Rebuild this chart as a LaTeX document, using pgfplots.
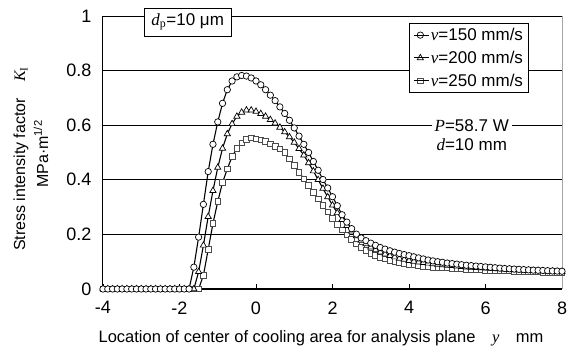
\documentclass[border=0pt]{standalone}
\usepackage{pgfplots}
\pgfplotsset{compat=1.18}
\usepackage{fontspec}
\setmainfont{Liberation Sans}
\newfontfamily\tnr{Liberation Serif}
\newcommand{\vi}[1]{{\tnr\itshape #1}}
\newcommand{\fs}{\fontsize{16}{19}\selectfont}
\newcommand{\fx}{\fontsize{16.5}{19}\selectfont}
\newcommand{\fl}{\fontsize{17}{20}\selectfont}
\begin{document}
\begin{tikzpicture}
\begin{axis}[
  at={(0pt,0pt)}, anchor=south west,
  scale only axis, width=459pt, height=273pt,
  xmin=-4, xmax=8, ymin=0, ymax=1,
  clip=false,
  axis lines*=left,
  axis line style={-, black, line width=1pt},
  xtick={-4,-2,0,2,4,6,8},
  ytick={0,0.2,0.4,0.6,0.8,1},
  ymajorgrids,
  grid style={black, line width=0.7pt},
  tick align=inside, major tick length=5pt,
  ytick style={draw=none},
  xtick style={black, line width=0.7pt},
  tick label style={font=\fontsize{18}{21}\selectfont},
  xticklabel style={yshift=-9pt},
  yticklabel style={xshift=-8pt},
  /pgf/number format/assume math mode=true,
  legend style={at={(axis cs:4.01,0.975)}, anchor=north west, draw=black,
    line width=0.8pt, fill=white, font=\fl, row sep=7pt, inner sep=4pt,
    nodes={inner sep=1pt}},
  legend cell align=left,
  reverse legend,
  legend image code/.code={\draw[mark repeat=2,mark phase=2] plot coordinates {(0pt,0pt) (6pt,0pt) (12pt,0pt)}; \path (0pt,0pt) -- (15pt,0pt);},
]
\draw[gray!70, line width=0.8pt] (axis cs:8,0) -- (axis cs:8,1);
\addplot[black, line width=1.1pt, mark=square*, mark size=2.8pt, mark options={fill=white, draw=black!70, line width=0.7pt, solid}] table {
-4 0
-3.875 0
-3.75 0
-3.625 0
-3.5 0
-3.375 0
-3.25 0
-3.125 0
-3 0
-2.875 0
-2.75 0
-2.625 0
-2.5 0
-2.375 0
-2.25 0
-2.125 0
-2 0
-1.875 0
-1.75 0
-1.625 0
-1.5 0
-1.375 0.05
-1.25 0.145
-1.125 0.24
-1 0.32
-0.875 0.39
-0.75 0.44
-0.625 0.485
-0.5 0.515
-0.375 0.535
-0.25 0.548
-0.125 0.553
0 0.55
0.125 0.547
0.25 0.541
0.375 0.532
0.5 0.522
0.625 0.514
0.75 0.5
0.875 0.477
1 0.452
1.125 0.428
1.25 0.404
1.375 0.38
1.5 0.355
1.625 0.33
1.75 0.306
1.875 0.282
2 0.259
2.125 0.237
2.25 0.217
2.375 0.199
2.5 0.182
2.625 0.166
2.75 0.152
2.875 0.141
3 0.131
3.125 0.123
3.25 0.116
3.375 0.11
3.5 0.105
3.625 0.101
3.75 0.097
3.875 0.094
4 0.091
4.125 0.088
4.25 0.086
4.375 0.084
4.5 0.082
4.625 0.08
4.75 0.079
4.875 0.078
5 0.077
5.125 0.076
5.25 0.075
5.375 0.074
5.5 0.073
5.625 0.072
5.75 0.071
5.875 0.07
6 0.069
6.125 0.0685
6.25 0.068
6.375 0.067
6.5 0.0665
6.625 0.066
6.75 0.065
6.875 0.0645
7 0.064
7.125 0.0635
7.25 0.063
7.375 0.0625
7.5 0.062
7.625 0.0615
7.75 0.061
7.875 0.0605
8 0.06
};
\addlegendentry{\vi{v}=250 mm/s}
\addplot[black, line width=1.1pt, mark=triangle*, mark size=3.6pt, mark options={fill=white, line width=0.7pt, solid}] table {
-4 0
-3.875 0
-3.75 0
-3.625 0
-3.5 0
-3.375 0
-3.25 0
-3.125 0
-3 0
-2.875 0
-2.75 0
-2.625 0
-2.5 0
-2.375 0
-2.25 0
-2.125 0
-2 0
-1.875 0
-1.75 0
-1.625 0
-1.5 0.063
-1.375 0.16
-1.25 0.265
-1.125 0.36
-1 0.445
-0.875 0.515
-0.75 0.568
-0.625 0.605
-0.5 0.632
-0.375 0.647
-0.25 0.655
-0.125 0.655
0 0.65
0.125 0.642
0.25 0.632
0.375 0.62
0.5 0.607
0.625 0.592
0.75 0.575
0.875 0.557
1 0.537
1.125 0.514
1.25 0.49
1.375 0.462
1.5 0.432
1.625 0.4
1.75 0.368
1.875 0.337
2 0.307
2.125 0.279
2.25 0.254
2.375 0.232
2.5 0.212
2.625 0.194
2.75 0.178
2.875 0.165
3 0.153
3.125 0.143
3.25 0.135
3.375 0.128
3.5 0.122
3.625 0.117
3.75 0.112
3.875 0.108
4 0.104
4.125 0.101
4.25 0.098
4.375 0.096
4.5 0.094
4.625 0.092
4.75 0.09
4.875 0.088
5 0.086
5.125 0.085
5.25 0.083
5.375 0.082
5.5 0.08
5.625 0.079
5.75 0.078
5.875 0.077
6 0.076
6.125 0.075
6.25 0.074
6.375 0.073
6.5 0.072
6.625 0.071
6.75 0.07
6.875 0.0695
7 0.069
7.125 0.068
7.25 0.0675
7.375 0.067
7.5 0.066
7.625 0.0655
7.75 0.065
7.875 0.064
8 0.063
};
\addlegendentry{\vi{v}=200 mm/s}
\addplot[black, line width=1.1pt, mark=*, mark size=3.2pt, mark options={fill=white, line width=0.7pt, solid}] table {
-4 0
-3.875 0
-3.75 0
-3.625 0
-3.5 0
-3.375 0
-3.25 0
-3.125 0
-3 0
-2.875 0
-2.75 0
-2.625 0
-2.5 0
-2.375 0
-2.25 0
-2.125 0
-2 0
-1.875 0
-1.75 0
-1.625 0.08
-1.5 0.19
-1.375 0.31
-1.25 0.43
-1.125 0.53
-1 0.612
-0.875 0.68
-0.75 0.73
-0.625 0.762
-0.5 0.777
-0.375 0.782
-0.25 0.78
-0.125 0.773
0 0.762
0.125 0.748
0.25 0.73
0.375 0.71
0.5 0.69
0.625 0.667
0.75 0.643
0.875 0.618
1 0.59
1.125 0.56
1.25 0.53
1.375 0.5
1.5 0.467
1.625 0.435
1.75 0.401
1.875 0.37
2 0.338
2.125 0.305
2.25 0.272
2.375 0.245
2.5 0.221
2.625 0.201
2.75 0.187
2.875 0.177
3 0.168
3.125 0.16
3.25 0.152
3.375 0.146
3.5 0.14
3.625 0.135
3.75 0.13
3.875 0.126
4 0.122
4.125 0.118
4.25 0.114
4.375 0.11
4.5 0.106
4.625 0.103
4.75 0.1
4.875 0.098
5 0.095
5.125 0.093
5.25 0.091
5.375 0.089
5.5 0.087
5.625 0.0855
5.75 0.084
5.875 0.0825
6 0.081
6.125 0.0795
6.25 0.078
6.375 0.0765
6.5 0.075
6.625 0.074
6.75 0.073
6.875 0.072
7 0.071
7.125 0.07
7.25 0.069
7.375 0.0685
7.5 0.068
7.625 0.067
7.75 0.066
7.875 0.0655
8 0.065
};
\addlegendentry{\vi{v}=150 mm/s}
\node[draw=black, fill=white, line width=0.8pt, minimum width=87pt, minimum height=28pt, font=\fl] at (axis cs:-1.785,0.978) {\vi{d}\textsubscript{\tnr p}=10 μm};
\node[fill=white, inner sep=3pt, font=\fl] at (axis cs:5.64,0.6) {\vi{P}=58.7 W};
\node[font=\fl] at (axis cs:5.64,0.527) {\vi{d}=10 mm};
\end{axis}
\node[rotate=90, font=\fs] at (-82pt,130pt) {Stress intensity factor\quad \vi{K}\textsubscript{\tnr I}};
\node[rotate=90, font=\fs] at (-62pt,135pt) {MPa·m\textsuperscript{1/2}};
\node[anchor=base, font=\fx] at (218pt,-54pt) {Location of center of cooling area for analysis plane\quad \vi{y}\quad mm};
\pgfresetboundingbox
\path (-103pt,-58pt) rectangle (470pt,289pt);
\end{tikzpicture}
\end{document}
